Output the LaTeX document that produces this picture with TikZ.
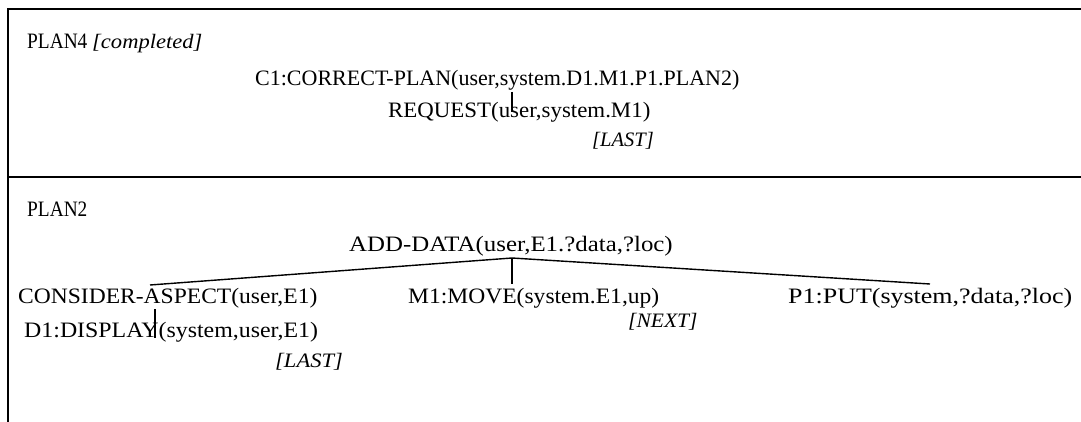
\documentclass[tikz,border=0pt]{standalone}
\usepackage{fontspec}
\setmainfont{Liberation Serif}
\usetikzlibrary{calc}
\newcommand{\lblfont}{\fontsize{22}{26}\selectfont}
\newcommand{\tagfont}{\fontsize{20.5}{24}\selectfont\itshape}
\newcommand{\sx}[2]{\scalebox{#1}[1]{#2}}
\begin{document}
\begin{tikzpicture}[x=1pt,y=-1pt,
  lbl/.style={anchor=base west, inner sep=0pt, font=\lblfont},
  tagl/.style={anchor=base west, inner sep=0pt, font=\tagfont},
  frame/.style={line width=1.6pt},
  link/.style={line width=1.4pt}]
\useasboundingbox (0,0) rectangle (1081,422);
% frame
\draw[frame] (1081,9) -- (8,9) -- (8,422);
\draw[frame] (8,177) -- (1081,177);
% PLAN4
\node[lbl] (plan4) at (27,49) {\sx{0.88}{PLAN4}};
\node[tagl] (compl) at (92,49) {\sx{1.1}{[completed]}};
\node[lbl] (c1) at (255,86) {C1:CORRECT-PLAN(user,system.D1.M1.P1.PLAN2)};
\node[lbl] (req) at (388,118) {\sx{1.04}{REQUEST(user,system.M1)}};
\node[tagl] (last1) at (592,147) {[LAST]};
% PLAN2
\node[lbl] (plan2) at (27,216) {\sx{0.88}{PLAN2}};
\node[lbl] (add) at (349,251) {\sx{1.13}{ADD-DATA(user,E1.?data,?loc)}};
\node[lbl] (cons) at (18,303) {\sx{1.07}{CONSIDER-ASPECT(user,E1)}};
\node[lbl] (move) at (408,303) {\sx{1.07}{M1:MOVE(system.E1,up)}};
\node[lbl] (put) at (788,303) {\sx{1.18}{P1:PUT(system,?data,?loc)}};
\node[tagl] (next) at (628,327) {\sx{1.05}{[NEXT]}};
\node[lbl] (disp) at (24,337) {\sx{1.085}{D1:DISPLAY(system,user,E1)}};
\node[tagl] (last2) at (275,367) {\sx{1.1}{[LAST]}};
% connectors
\draw[link] ([xshift=257pt,yshift=-6pt]c1.base west) -- ([xshift=124pt,yshift=6pt]req.base west);
\coordinate (jn) at ([xshift=163pt,yshift=-7pt]add.base west);
\draw[link] (jn) -- ([xshift=132pt,yshift=18pt]cons.base west);
\draw[link] (jn) -- ([xshift=104pt,yshift=19pt]move.base west);
\draw[link] (jn) -- ([xshift=142pt,yshift=19pt]put.base west);
\draw[link] ([xshift=137pt,yshift=-6pt]cons.base west) -- ([xshift=131pt,yshift=-1pt]disp.base west);
\end{tikzpicture}
\end{document}
